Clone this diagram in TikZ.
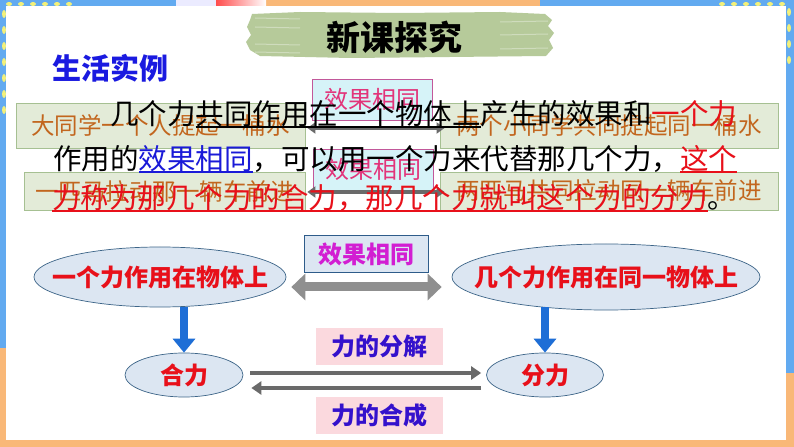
\documentclass[tikz,border=0pt]{standalone}
\usepackage{fontspec}
\setmainfont{Noto Sans CJK SC}
\usetikzlibrary{arrows.meta,shapes.geometric}
\definecolor{frameblue}{HTML}{62AAF0}
\definecolor{frameorange}{HTML}{F9B878}
\definecolor{dotyellow}{HTML}{F2F07A}
\definecolor{bannergreen}{HTML}{B6CA9A}
\definecolor{headblue}{HTML}{1A1AE0}
\definecolor{hired}{HTML}{E8101A}
\definecolor{ulblue}{HTML}{1A1AD8}
\definecolor{samplebg}{HTML}{E3EBD8}
\definecolor{samplebd}{HTML}{A6C092}
\definecolor{sampletx}{HTML}{C2661E}
\definecolor{samebg}{HTML}{D6F3F8}
\definecolor{samebd}{HTML}{C2589A}
\definecolor{sametx}{HTML}{E2347A}
\definecolor{bubblebg}{HTML}{DCE6F2}
\definecolor{bubblebd}{HTML}{3D6588}
\definecolor{boxbd}{HTML}{2E5C8A}
\definecolor{magtx}{HTML}{D21ED2}
\definecolor{pinkbg}{HTML}{FBD9DE}
\definecolor{violettx}{HTML}{3411CC}
\definecolor{grayarr}{HTML}{8F8F8F}
\definecolor{darkarr}{HTML}{6A6A6A}
\definecolor{arrblue}{HTML}{1E6ED6}
\newcommand\paraul[1]{\setbox0\hbox{#1}\rlap{\rule[-4bp]{\wd0}{1.6bp}}\box0}
\tikzset{
  para/.style={anchor=west,inner sep=0pt,font=\fontsize{28.5bp}{30bp}\selectfont},
  sample/.style={draw=samplebd,fill=samplebg,line width=0.8bp,text=sampletx,inner sep=0pt,
    font=\fontsize{23.5bp}{25bp}\selectfont},
  same/.style={draw=samebd,fill=samebg,line width=0.8bp,text=sametx,inner sep=0pt,
    minimum width=120bp,minimum height=41bp,font=\fontsize{24bp}{26bp}\selectfont},
  bubble/.style={ellipse,draw=bubblebd,fill=bubblebg,line width=0.7bp,text=hired,inner sep=0pt,
    font=\fontsize{24bp}{26bp}\selectfont\bfseries,
    execute at begin node={\hbox to 0pt\bgroup\hss},execute at end node={\hss\egroup}},
  samebox/.style={draw=boxbd,fill=bubblebg,line width=1bp,text=magtx,inner sep=0pt,
    minimum width=124bp,minimum height=37bp,font=\fontsize{24bp}{26bp}\selectfont\bfseries},
  pinkbox/.style={fill=pinkbg,text=violettx,inner sep=0pt,
    minimum width=127bp,minimum height=37bp,font=\fontsize{24bp}{26bp}\selectfont\bfseries},
  thinarr/.style={draw=darkarr,line width=4bp,{Triangle[width=11bp,length=8bp]}-{Triangle[width=11bp,length=8bp]}},
  bigarr/.style={draw=grayarr,line width=9bp,{Triangle[width=26bp,length=14bp]}-{Triangle[width=26bp,length=14bp]}},
  darr/.style={draw=darkarr,line width=4.5bp,-{Triangle[width=13bp,length=10bp]}},
  bluearr/.style={draw=arrblue,line width=8bp,-{Triangle[width=22bp,length=14bp]}}
}

\begin{document}
\begin{tikzpicture}[x=1bp,y=-1bp]
  \useasboundingbox (0,0) rectangle (794,447);
  %Frame
  \fill[frameorange] (0,0) rectangle (794,447);
  \fill[frameblue] (0,0) rectangle (6,348);
  \fill[frameblue] (786,0) rectangle (794,373);
  \fill[white] (6,6) rectangle (786,440);
  \fill[frameblue] (0,0) rectangle (176,6);
  \fill[frameblue] (540,0) rectangle (794,6);
  \fill[blue!8] (176,0) rectangle (216,6);
  \shade[left color=red!70,right color=white] (216,0) rectangle (266,6);
  \foreach \x in {9,21,...,75} \fill[dotyellow] (\x,4) ellipse (3 and 2);
  \foreach \x in {722,734,...,782} \fill[dotyellow] (\x,4) ellipse (3 and 2);
  \foreach \y in {14,30,...,120} \fill[dotyellow] (4,\y) ellipse (2 and 4);
  \foreach \y in {12,28,...,60} \fill[dotyellow] (789,\y) ellipse (2 and 4);
  %Title
  \fill[bannergreen] (252,14) -- (300,12) -- (400,13) -- (500,12) -- (545,14) -- (552,20)
    -- (548,26) -- (554,33) -- (549,40) -- (553,48) -- (546,56) -- (450,57) -- (350,58)
    -- (260,56) -- (250,50) -- (246,42) -- (251,35) -- (247,27) -- (250,20) -- cycle;
  \foreach \y in {18,27,44,52} \draw[white,opacity=0.35,line width=1bp] (255,\y) -- (300,\y+1);
  \foreach \y in {22,35,49} \draw[white,opacity=0.35,line width=1bp] (500,\y) -- (548,\y-1);
  \node[font=\fontsize{34bp}{36bp}\selectfont\bfseries] (title) at (394,37) {新课探究};
  \node[anchor=west,inner sep=0pt,text=headblue,font=\fontsize{29bp}{30bp}\selectfont\bfseries]
    (life) at (52,68) {生活实例};
  %Examples
  \node[sample,minimum width=289bp,minimum height=45bp] (liftone) at (160.5,125.5) {大同学一个人提起一桶水};
  \node[sample,minimum width=338bp,minimum height=45bp] (lifttwo) at (609,125.5) {两个小同学共同提起同一桶水};
  \node[sample,minimum width=281bp,minimum height=38bp] (pullone) at (164.5,191) {一匹马拉动那一辆车前进};
  \node[sample,minimum width=338bp,minimum height=38bp] (pulltwo) at (609,191) {两匹马共同拉动同一辆车前进};
  \node[same] (sameone) at (372,99.5) {效果相同};
  \node[same] (sametwo) at (373,169.5) {效果相同};
  \draw[thinarr] ([xshift=2bp,yshift=-2.5bp]liftone.east) -- ([xshift=5bp,yshift=-2.5bp]lifttwo.west);
  \draw[thinarr] ([xshift=2bp,yshift=-1bp]pullone.east) -- ([xshift=5bp,yshift=-1bp]pulltwo.west);
  %Definition
  \node[para] (lineone) at (110,114) {几个力\paraul{共同作用在一个物体上}产生的效果和{\color{hired}一个力}};
  \node[para] (linetwo) at (53,159) {作用的{\color{ulblue}\paraul{效果相同}}，可以用一个力来代替那几个力，{\color{hired}\paraul{这个}}};
  \node[para] (linethree) at (52,198) {{\color{hired}\paraul{力称为那几个力的合力，那几个力就叫这个力的分力}}。};
  %Diagram
  \node[bubble,minimum width=252bp,minimum height=60bp] (one) at (160,277) {一个力作用在物体上};
  \node[bubble,minimum width=308bp,minimum height=66bp] (many) at (606,277) {几个力作用在同一物体上};
  \node[samebox] (same) at (366,254.5) {效果相同};
  \node[bubble,minimum width=118bp,minimum height=44bp] (res) at (184,375) {合力};
  \node[bubble,minimum width=117bp,minimum height=44bp] (comp) at (545,375) {分力};
  \node[pinkbox] (split) at (379.5,346.5) {力的分解};
  \node[pinkbox] (merge) at (379.5,415) {力的合成};
  \draw[bigarr] ([xshift=5bp,yshift=-10bp]one.east) -- ([xshift=-10bp,yshift=-10bp]many.west);
  \draw[bluearr] (res.north |- one.south) -- (res.north);
  \draw[bluearr,shorten <=-3bp] (comp.north |- many.south) -- (comp.north);
  \draw[darr] ([xshift=7bp,yshift=2bp]res.east) -- ([xshift=-5bp,yshift=2bp]comp.west);
  \draw[darr] ([xshift=-5bp,yshift=-13bp]comp.west) -- ([xshift=8bp,yshift=-13bp]res.east);
\end{tikzpicture}
\end{document}
